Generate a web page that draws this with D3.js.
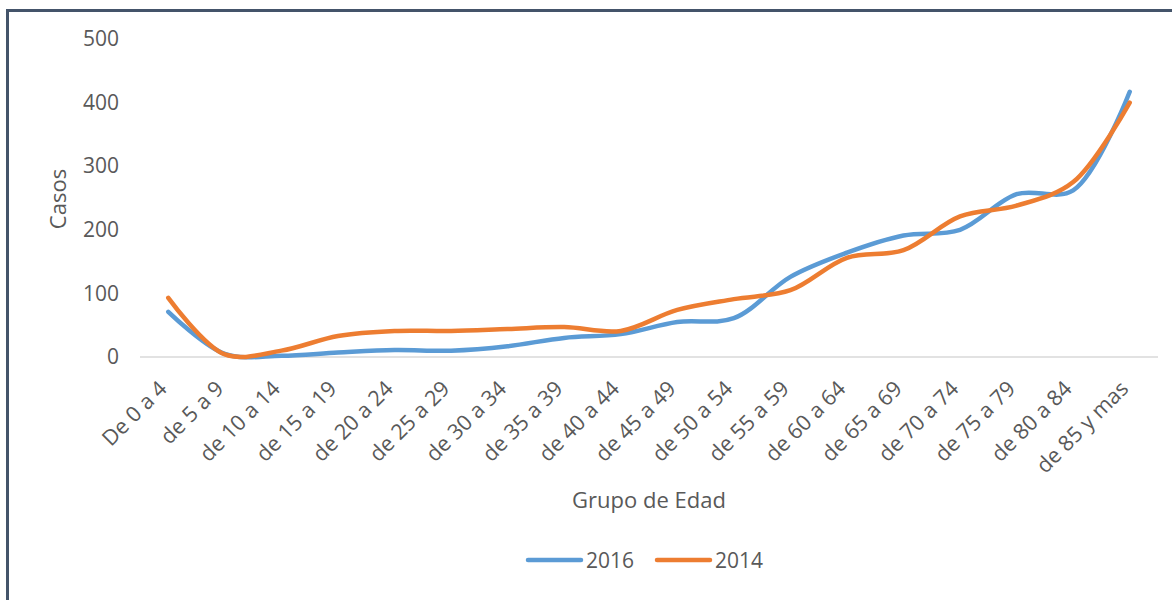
<!DOCTYPE html>
<html>
<head>
<meta charset="utf-8">
<script src="https://cdn.jsdelivr.net/npm/d3@7"></script>
<style>
  html, body { margin: 0; padding: 0; background: #fff; }
  svg { display: block; }
  text { font-family: "Open Sans", "Noto Sans", sans-serif; fill: #595959; }
</style>
</head>
<body>
<svg id="chart" width="1172" height="600"></svg>
<script>
const categories = ["De 0 a 4","de 5 a 9","de 10 a 14","de 15 a 19","de 20 a 24","de 25 a 29","de 30 a 34","de 35 a 39","de 40 a 44","de 45 a 49","de 50 a 54","de 55 a 59","de 60 a 64","de 65 a 69","de 70 a 74","de 75 a 79","de 80 a 84","de 85 y mas"];
const values2016 = [71, 5, 2, 7, 11, 10, 17, 30, 36, 55, 61, 126, 164, 191, 200, 256, 262, 417];
const values2014 = [93, 4, 10, 33, 41, 41, 44, 47, 41, 74, 91, 105, 156, 168, 221, 238, 275, 400];
const yTicks = [0, 100, 200, 300, 400, 500];
const seriesNames = ["2016", "2014"];
const seriesColors = ["#5b9bd5", "#ed7d31"];

const svg = d3.select("#chart");

// outer frame (only left & top edges visible in the reference)
svg.append("rect")
  .attr("x", 7.5).attr("y", 10.5)
  .attr("width", 1200).attr("height", 700)
  .attr("fill", "none").attr("stroke", "#44546a").attr("stroke-width", 3);

const x = d3.scaleBand().domain(categories).range([140, 1158]);
const y = d3.scaleLinear().domain([0, 500]).range([357, 39]);

// baseline
svg.append("line")
  .attr("x1", 140).attr("x2", 1158)
  .attr("y1", y(0)).attr("y2", y(0))
  .attr("stroke", "#d9d9d9").attr("stroke-width", 1.5);

// y axis labels
const yAxis = d3.axisLeft(y).tickValues(yTicks).tickSize(0).tickPadding(0);
const gy = svg.append("g").attr("transform", "translate(119,0)").call(yAxis);
gy.select(".domain").remove();
gy.selectAll("text").style("font-size", "21px").attr("fill", "#595959")
  .style("font-family", '"Open Sans", sans-serif');

// x axis labels
const xAxis = d3.axisBottom(x).tickSize(0);
const gx = svg.append("g").attr("transform", `translate(0,${y(0)})`).call(xAxis);
gx.select(".domain").remove();
gx.selectAll("text")
  .style("font-size", "21.5px")
  .style("font-family", '"Open Sans", sans-serif')
  .attr("fill", "#595959")
  .attr("text-anchor", "end")
  .attr("dy", "0")
  .attr("transform", "translate(0,33) rotate(-45)")
  .attr("y", 0).attr("x", 0);

// lines
const line = d3.line()
  .x((d, i) => x(categories[i]) + x.bandwidth() / 2)
  .y(d => y(d))
  .curve(d3.curveCatmullRom.alpha(0.5));

[values2016, values2014].forEach((vals, k) => {
  svg.append("path")
    .datum(vals)
    .attr("fill", "none")
    .attr("stroke", seriesColors[k])
    .attr("stroke-width", 4.5)
    .attr("stroke-linecap", "round")
    .attr("d", line);
});

// axis titles
svg.append("text")
  .attr("x", 649).attr("y", 508)
  .attr("text-anchor", "middle")
  .style("font-size", "22px")
  .text("Grupo de Edad");

svg.append("text")
  .attr("transform", "translate(66,199) rotate(-90)")
  .attr("text-anchor", "middle")
  .style("font-size", "22px")
  .text("Casos");

// legend
const legend = svg.append("g");
const legendX = [528, 657];
seriesNames.forEach((name, k) => {
  legend.append("line")
    .attr("x1", legendX[k]).attr("x2", legendX[k] + 53)
    .attr("y1", 560).attr("y2", 560)
    .attr("stroke", seriesColors[k]).attr("stroke-width", 4.5)
    .attr("stroke-linecap", "round");
  legend.append("text")
    .attr("x", legendX[k] + 58).attr("y", 568)
    .style("font-size", "21px")
    .text(name);
});
</script>
</body>
</html>
